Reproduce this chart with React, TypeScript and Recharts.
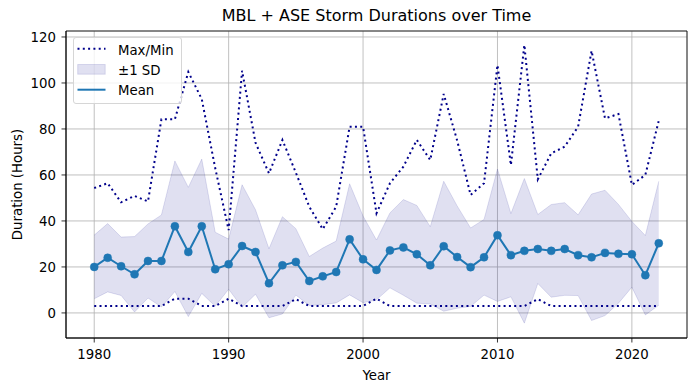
import React from 'react';
import { ComposedChart, Line, Area, XAxis, YAxis, CartesianGrid, Legend, ReferenceArea } from 'recharts';

const years = [
  1980, 1981, 1982, 1983, 1984, 1985, 1986, 1987, 1988, 1989,
  1990, 1991, 1992, 1993, 1994, 1995, 1996, 1997, 1998, 1999,
  2000, 2001, 2002, 2003, 2004, 2005, 2006, 2007, 2008, 2009,
  2010, 2011, 2012, 2013, 2014, 2015, 2016, 2017, 2018, 2019,
  2020, 2021, 2022,
];

const meanDuration = [
  20, 24, 20.3, 16.8, 22.6, 22.6, 37.7, 26.5, 37.7, 19,
  21.2, 29.1, 26.5, 12.9, 20.7, 22.2, 13.9, 15.9, 17.8, 32,
  23.3, 18.7, 27.2, 28.5, 25.5, 20.7, 29, 24.3, 19.9, 24.2,
  33.8, 25.1, 27, 27.8, 27, 27.8, 25.1, 24.2, 26.1, 25.7,
  25.5, 16.4, 30.3,
];

const sdDuration = [
  13.85, 14.85, 12.7, 16.4, 16.1, 20, 28.4, 28.1, 29.2, 16.1,
  10.9, 26.65, 18.35, 15, 21.15, 14.45, 10.65, 12.3, 13.45, 24.15,
  18.85, 13, 16.3, 20.8, 21.25, 16.8, 28.25, 22.25, 17.05, 16.45,
  28.8, 18.1, 31.45, 15, 20.15, 20.15, 17.55, 27.5, 27.25, 21.5,
  14.3, 17.25, 26.95,
];

const maxDuration = [
  54.3, 56.4, 48.1, 50.9, 48.5, 84.2, 84.2, 104.8, 93, 63,
  36, 105.3, 74, 60.7, 75.2, 61, 46.2, 36.4, 46.2, 81,
  81, 43.3, 56.4, 63.6, 75.2, 66.5, 95.2, 75, 51.3, 56.4,
  107.8, 64.3, 116.5, 58.1, 69.4, 72.3, 81, 114, 84.6, 86.5,
  55.7, 60, 83.6,
];

const minDuration = [
  3, 3, 3, 3, 3, 3, 6.2, 6.2, 3, 3,
  6.2, 3, 3, 3, 3, 6, 3, 3, 3, 3,
  3, 6.2, 3, 3, 3, 3, 3, 3, 3, 3,
  3, 3, 3, 6, 3, 3, 3, 3, 3, 3,
  3, 3, 3,
];

const xTicks = [1980, 1990, 2000, 2010, 2020];
const yTicks = [0, 20, 40, 60, 80, 100, 120];

const xDomain: [number, number] = [1977.9, 2024.1];
const yDomain: [number, number] = [-10.9, 122.6];

const data = years.map((year, i) => ({
  year,
  mean: meanDuration[i],
  max: maxDuration[i],
  min: minDuration[i],
  band: [meanDuration[i] - sdDuration[i], meanDuration[i] + sdDuration[i]],
}));

const FONT = 'DejaVu Sans';
const DARK = '#00008b';
const BLUE = '#1f77b4';
const DOTS = '2 3.3';

const LegendBox = () => (
  <div
    style={{
      width: 109,
      height: 67,
      border: '1px solid #d6d6d6',
      borderRadius: 3,
      background: 'rgba(255,255,255,0.8)',
      boxSizing: 'border-box',
      position: 'relative',
    }}
  >
    <svg width={107} height={65} style={{ position: 'absolute', left: 0, top: 0, overflow: 'visible' }}>
      <line x1={3.5} x2={31.5} y1={10.7} y2={10.7} stroke={DARK} strokeWidth={2} strokeDasharray={DOTS} />
      <rect x={3.7} y={26.5} width={27.5} height={9.7} fill={DARK} fillOpacity={0.12} stroke={DARK} strokeOpacity={0.12} />
      <line x1={3.5} x2={31.5} y1={51.7} y2={51.7} stroke={BLUE} strokeWidth={2} />
      <text x={44} y={16.7} fontFamily={FONT} fontSize={13.3} fill="#000">Max/Min</text>
      <text x={44} y={36.9} fontFamily={FONT} fontSize={13.3} fill="#000">±1 SD</text>
      <text x={44} y={57.4} fontFamily={FONT} fontSize={13.3} fill="#000">Mean</text>
    </svg>
  </div>
);

export default function App() {
  return (
    <div style={{ position: 'absolute', left: 0, top: 0, width: 695, height: 391, background: '#fff' }}>
      <div
        style={{
          position: 'absolute',
          left: 66,
          width: 621,
          top: 8.4,
          textAlign: 'center',
          fontFamily: FONT,
          fontSize: 16,
          lineHeight: '16px',
          color: '#000',
          whiteSpace: 'nowrap',
        }}
      >
        MBL + ASE Storm Durations over Time
      </div>
      <ComposedChart
        width={695}
        height={391}
        data={data}
        margin={{ top: 31, right: 8, bottom: 8, left: 0 }}
      >
        <Area
          type="linear"
          dataKey="band"
          fill={DARK}
          fillOpacity={0.12}
          stroke={DARK}
          strokeOpacity={0.12}
          strokeWidth={1}
          isAnimationActive={false}
          activeDot={false}
          dot={false}
        />
        <CartesianGrid stroke="#b0b0b0" strokeWidth={0.8} />
        <XAxis
          dataKey="year"
          type="number"
          domain={xDomain}
          allowDataOverflow
          ticks={xTicks}
          height={45}
          tickSize={4.5}
          tickMargin={7}
          tick={{ fill: '#000', fontSize: 13.3, fontFamily: FONT }}
          tickLine={{ stroke: '#000', strokeWidth: 0.8 }}
          axisLine={{ stroke: '#000', strokeWidth: 0.8 }}
          label={{ value: 'Year', position: 'insideBottom', offset: 3, fill: '#000', fontSize: 13.3, fontFamily: FONT }}
        />
        <YAxis
          type="number"
          domain={yDomain}
          allowDataOverflow
          ticks={yTicks}
          width={66}
          tickSize={4.5}
          tickMargin={5.5}
          tick={{ fill: '#000', fontSize: 13.3, fontFamily: FONT }}
          tickLine={{ stroke: '#000', strokeWidth: 0.8 }}
          axisLine={{ stroke: '#000', strokeWidth: 0.8 }}
          label={{
            value: 'Duration (Hours)',
            angle: -90,
            position: 'insideLeft',
            offset: 17,
            fill: '#000',
            fontSize: 13.3,
            fontFamily: FONT,
            style: { textAnchor: 'middle' },
          }}
        />
        <Line
          type="linear"
          dataKey="max"
          stroke={DARK}
          strokeWidth={2}
          strokeDasharray={DOTS}
          dot={false}
          activeDot={false}
          isAnimationActive={false}
        />
        <Line
          type="linear"
          dataKey="min"
          stroke={DARK}
          strokeWidth={2}
          strokeDasharray={DOTS}
          dot={false}
          activeDot={false}
          isAnimationActive={false}
        />
        <Line
          type="linear"
          dataKey="mean"
          stroke={BLUE}
          strokeWidth={2}
          dot={{ r: 4, fill: BLUE, stroke: BLUE, strokeWidth: 0.5 }}
          activeDot={false}
          isAnimationActive={false}
        />
        <ReferenceArea
          x1={xDomain[0]}
          x2={xDomain[1]}
          y1={yDomain[0]}
          y2={yDomain[1]}
          fill="none"
          fillOpacity={0}
          stroke="#000"
          strokeWidth={0.8}
          ifOverflow="visible"
        />
        <Legend
          layout="vertical"
          align="center"
          verticalAlign="middle"
          content={() => <LegendBox />}
          wrapperStyle={{ left: 73, top: 37, width: 109, height: 67 }}
        />
      </ComposedChart>
    </div>
  );
}
